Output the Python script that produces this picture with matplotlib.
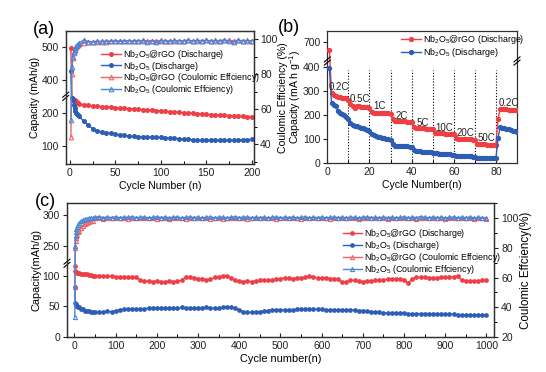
import numpy as np
import matplotlib
matplotlib.use('Agg')
import matplotlib.pyplot as plt
from matplotlib.ticker import MultipleLocator, FixedLocator

plt.rcParams['font.family'] = ['Liberation Sans', 'DejaVu Sans']
plt.rcParams['mathtext.fontset'] = 'custom'
plt.rcParams['mathtext.rm'] = 'Liberation Sans'
plt.rcParams['mathtext.it'] = 'Liberation Sans:italic'
plt.rcParams['mathtext.default'] = 'regular'

# ---------------- data: panel (a) ----------------
cycles_a = [1, 2, 3, 4, 5, 6, 7, 8, 9, 10] + list(range(15, 201, 5))
rgo_dis_a = [495, 245, 243, 240, 238, 236, 234, 232, 230, 228,
             225, 223, 221, 220, 219, 218, 217, 216, 215, 214, 213, 212, 211, 210,
             209, 208, 207, 206, 205, 204, 203, 202, 201, 200, 199, 198, 197, 196,
             195, 194, 193, 193, 192, 191, 190, 190, 189, 189]
nb_dis_a = [425, 245, 238, 225, 215, 207, 200, 196, 193, 190,
            175, 163, 153, 147, 143, 140, 138, 136, 134, 132, 130, 129, 128, 128,
            127, 127, 126, 126, 125, 124, 123, 122, 121, 120, 119, 119, 118, 118,
            118, 117, 117, 117, 118, 118, 118, 119, 119, 120]
rgo_ce_a = [44, 80, 89, 92, 94, 95, 95.5, 96, 96.5, 97,
            97.8, 98.2, 98.5, 98.4, 98.7, 98.6, 98.9, 98.7, 99.0, 98.8, 99.1, 98.9,
            99.0, 99.2, 98.9, 99.1, 99.0, 99.2, 99.1, 98.9, 99.2, 99.0, 99.1, 99.3,
            99.0, 99.2, 99.1, 99.3, 99.0, 99.2, 99.1, 99.3, 99.2, 99.0, 99.3, 99.1,
            99.2, 99.0]
nb_ce_a = [53.7, 84, 90, 92.5, 94, 95, 96, 96.5, 97, 97.5,
           99.5, 98.6, 98.4, 98.8, 98.6, 98.9, 98.7, 99.0, 98.8, 98.9, 99.1, 98.8,
           99.0, 99.1, 98.6, 99.0, 98.2, 99.1, 99.0, 98.8, 99.1, 99.0, 98.9, 99.2,
           99.0, 99.1, 98.9, 99.2, 99.0, 99.1, 99.0, 99.2, 99.1, 98.3, 99.2, 99.0,
           99.1, 98.9]

# ---------------- data: panel (b) ----------------
cycles_b = list(range(1, 91))
rgo_rate = [670, 290, 283, 280, 276, 273, 272, 270, 268, 262,
            245, 235, 230, 236, 235, 234, 233, 232, 231, 230,
            212, 210, 209, 208, 208, 207, 207, 206, 206, 205,
            182, 176, 175, 174, 174, 173, 173, 172, 172, 171,
            150, 146, 145, 145, 144, 144, 143, 143, 142, 142,
            127, 125, 125, 124, 124, 123, 123, 123, 122, 122,
            103, 101, 100, 100, 100, 99, 99, 99, 98, 98,
            81, 79, 78, 78, 78, 77, 77, 77, 77, 77,
            185, 225, 224, 223, 223, 222, 222, 221, 221, 220]
nb_rate = [395, 250, 243, 238, 215, 208, 203, 198, 192, 185,
           165, 160, 156, 153, 150, 148, 145, 142, 139, 135,
           120, 115, 112, 110, 108, 106, 104, 102, 100, 97,
           78, 72, 70, 70, 70, 70, 70, 70, 69, 68,
           55, 52, 50, 49, 48, 47, 46, 45, 45, 44,
           42, 41, 40, 39, 38, 38, 37, 37, 36, 35,
           32, 31, 31, 30, 30, 30, 29, 29, 28, 28,
           22, 21, 21, 21, 20, 20, 20, 20, 20, 20,
           105, 150, 147, 145, 143, 140, 138, 135, 133, 130]
rate_labels = ['0.2C', '0.5C', '1C', '2C', '5C', '10C', '20C', '50C', '0.2C']
rate_label_x = [5.5, 15.3, 25, 35.1, 45.1, 55.5, 65.5, 75.5, 86]
rate_label_y = [314, 264, 237, 196, 168, 148, 127, 103, 250]
rate_bounds = [10, 20, 30, 40, 50, 60, 70, 80]

# ---------------- data: panel (c) ----------------
cycles_c = [1, 2, 3, 4, 5, 6, 8, 10, 15, 20, 25, 30, 35, 40, 45] + list(range(50, 1001, 10))
rgo_dis_c = [115, 108, 106, 105, 105, 104, 104, 104, 103, 103, 102, 102, 101, 101, 100,
             100, 100, 99, 99, 99, 98, 98, 98, 97, 97, 98,
             92, 91, 91, 90, 91, 90, 90, 91, 90, 91, 92,
             98, 97, 96, 95, 95, 93, 94, 97, 98, 99, 100, 96,
             92, 91, 90, 91, 90, 91, 92, 93, 92, 93, 94, 95,
             96, 96, 95, 96, 96, 97, 99, 97, 96, 96, 96, 95, 95, 94,
             89, 90, 92, 92, 91, 90, 91, 91, 92, 92, 93, 94,
             94, 94, 95, 92, 88, 94, 97, 97, 97, 96, 96, 96, 97, 97,
             97, 98, 99, 92, 91, 91, 91, 91, 92, 93]
nb_dis_c = [82, 55, 53, 52, 51, 50, 49, 48, 46, 45, 43, 42, 42, 41, 41,
            41, 40, 41, 42, 41, 43, 44, 45, 45, 46, 46,
            46, 46, 47, 47, 47, 47, 47, 47, 47, 47, 48,
            47, 47, 47, 47, 47, 48, 47, 47, 47, 48, 49, 48,
            47, 44, 41, 40, 40, 40, 41, 42, 43, 44, 44, 44,
            44, 44, 44, 45, 45, 45, 45, 45, 45, 45, 44, 44, 44, 44,
            44, 44, 44, 44, 43, 43, 42, 41, 41, 40, 39, 39,
            39, 39, 39, 39, 38, 38, 38, 38, 38, 38, 38, 38, 37, 37,
            37, 37, 36, 36, 36, 36, 36, 36, 36, 36]
rgo_ce_c = [54, 80, 85, 87, 88, 89, 90.5, 91.5, 93.5, 95, 96, 97, 97.5, 98, 98.5,
            100.2, 100.5, 99.8, 100.3, 100.1, 99.9, 100.4, 100.0, 99.7, 100.3,
            100.1, 100.4, 99.9, 100.2, 100.0, 99.6, 100.3, 100.1, 99.8, 100.2,
            100.4, 100.0, 99.7, 100.2, 100.1, 99.9, 100.3, 100.0, 99.5, 100.2,
            100.1, 99.8, 100.4, 100.0, 99.9, 100.3, 100.1, 99.7, 100.2, 100.0,
            100.3, 99.9, 100.1, 100.4, 99.8, 100.0, 100.2, 99.9, 100.3, 100.1,
            99.6, 100.2, 100.0, 100.4, 99.9, 100.1, 100.3, 99.8, 100.0, 100.2,
            100.1, 99.9, 100.3, 100.0, 99.7, 100.2, 100.1, 100.4, 99.9, 100.0,
            100.2, 99.8, 100.1, 100.3, 100.0, 99.9, 100.2, 100.1, 99.8, 100.3,
            100.0, 100.2, 99.9, 100.1, 100.4, 99.8, 100.0, 100.2, 100.1, 99.9,
            100.3, 100.0, 99.8, 100.2, 100.1, 99.7]
nb_ce_c = [33.5, 81, 88, 91, 93, 94, 95.5, 96.5, 98, 98.8, 99.3, 99.6, 100, 100.3, 100.5,
           100.6, 101.2, 100.4, 100.9, 100.5, 101.0, 100.3, 100.8, 100.6, 101.1,
           100.4, 100.7, 100.9, 100.3, 100.6, 101.0, 100.5, 100.8, 100.4, 100.7,
           100.9, 100.3, 100.6, 101.0, 100.5, 100.8, 100.2, 100.7, 100.9, 100.4,
           100.6, 100.8, 100.3, 100.7, 101.0, 100.5, 100.6, 100.9, 100.4, 100.7,
           100.5, 100.8, 100.3, 100.6, 100.9, 100.4, 100.7, 100.5, 100.8, 100.3,
           100.6, 100.9, 100.4, 100.7, 100.5, 100.8, 100.3, 100.6, 100.9, 100.5,
           100.7, 100.4, 100.8, 100.6, 100.3, 100.7, 100.9, 100.5, 100.6, 100.4,
           100.8, 100.5, 100.7, 100.3, 100.6, 100.9, 100.4, 100.7, 100.5, 101.2,
           100.6, 100.4, 100.8, 100.5, 100.7, 100.3, 100.6, 100.9, 100.4, 100.7,
           100.5, 100.8, 100.4, 100.6, 100.5, 100.3]

lab_rgo_d = r'Nb$_2$O$_5$@rGO (Discharge)'
lab_nb_d = r'Nb$_2$O$_5$ (Discharge)'
lab_rgo_ce = r'Nb$_2$O$_5$@rGO (Coulomic Effciency)'
lab_nb_ce = r'Nb$_2$O$_5$ (Coulomic Effciency)'

# ---------------- styles ----------------
RED = '#ee3f45'
BLUE = '#2d5db5'
RED_CE = '#f06464'
BLUE_CE = '#4a86d6'
SPINE = '#303030'
TICK_FS = 7.5
LAB_FS = 7.6
LEG_FS = 6.4


def broken_scale(lo, hi):
    gap = hi - lo

    def fwd(v):
        v = np.asarray(v, dtype=float)
        return np.where(v <= lo, v, np.where(v >= hi, v - gap, lo))

    def inv(t):
        t = np.asarray(t, dtype=float)
        return np.where(t <= lo, t, t + gap)
    return fwd, inv


def add_break(ax, lo, fwd, ylim, sides=('left',)):
    t = fwd(np.array([lo, ylim[0], ylim[1]]))
    yf = (t[0] - t[1]) / (t[2] - t[1])
    w, h = ax.bbox.width, ax.bbox.height
    dx = 3.0 / w
    dy = 2.5 / h
    sep = 1.6 / h
    for side in sides:
        x0 = 0 if side == 'left' else 1
        for off in (-sep, sep):
            ax.plot([x0 - dx, x0 + dx], [yf + off - dy, yf + off + dy],
                    transform=ax.transAxes, color='k', lw=0.8,
                    clip_on=False, zorder=20)


def style_axes(ax, ypad=2):
    for s in ax.spines.values():
        s.set_color(SPINE)
        s.set_linewidth(0.9)
    ax.tick_params(axis='x', direction='in', length=3, width=0.8,
                   labelsize=TICK_FS, pad=3, colors='#222222', which='major')
    ax.tick_params(axis='x', direction='in', length=2, width=0.7, which='minor')
    ax.tick_params(axis='y', direction='out', length=3, width=0.8,
                   labelsize=TICK_FS, pad=ypad, colors='#222222', which='major')
    ax.tick_params(axis='y', direction='out', length=2, width=0.7, which='minor')


fig = plt.figure(figsize=(5.46, 3.72), dpi=100)
W, H = 546.0, 372.0


def px_axes(l, r, t, b):
    return fig.add_axes([l / W, (H - b) / H, (r - l) / W, (b - t) / H])


def legend_kw(spacing):
    return dict(frameon=False, fontsize=LEG_FS, handlelength=2.2,
                handletextpad=0.25, labelspacing=spacing, borderpad=0,
                borderaxespad=0)


# ================= panel (a) =================
axa = px_axes(65.7, 254, 31, 164)
fa, ia = broken_scale(250, 350)
ylim_a = (46, 547)
axa.set_yscale('function', functions=(fa, ia))
axa.set_ylim(*ylim_a)
axa.set_xlim(-4.7, 202.5)
axa.plot(cycles_a, rgo_dis_a, color=RED, marker='o', ms=2.6, lw=1.0, label=lab_rgo_d)
axa.plot(cycles_a, nb_dis_a, color=BLUE, marker='o', ms=2.6, lw=1.0, label=lab_nb_d)
axa.yaxis.set_major_locator(FixedLocator([100, 200, 400, 500]))
axa.yaxis.set_minor_locator(FixedLocator([]))
axa.xaxis.set_major_locator(MultipleLocator(50))
axa.xaxis.set_minor_locator(MultipleLocator(25))
style_axes(axa)
axa.set_xlabel('Cycle Number (n)', fontsize=LAB_FS, labelpad=2)
axa.set_ylabel('Capacity (mAh/g)', fontsize=LAB_FS, labelpad=1)

axa2 = axa.twinx()
axa2.plot(cycles_a, rgo_ce_a, color=RED_CE, marker='^', ms=3.3, mfc='none', mew=0.8, lw=1.0, label=lab_rgo_ce)
axa2.plot(cycles_a, nb_ce_a, color=BLUE_CE, marker='^', ms=3.3, mfc='none', mew=0.8, lw=1.0, label=lab_nb_ce)
axa2.set_ylim(28.6, 104.6)
axa2.yaxis.set_major_locator(MultipleLocator(20))
axa2.yaxis.set_minor_locator(MultipleLocator(10))
style_axes(axa2, ypad=1.5)
axa2.set_ylabel('Coulomic Efficiency (%)', fontsize=LAB_FS, labelpad=0.5)
add_break(axa, 250, fa, ylim_a)
h1, l1 = axa.get_legend_handles_labels()
h2, l2 = axa2.get_legend_handles_labels()
axa2.legend(h1 + h2, l1 + l2, loc='upper left', bbox_to_anchor=(0.19, 0.875),
            **legend_kw(-0.12))
fig.text(33 / W, 1 - 30 / H, '(a)', fontsize=13, va='center', ha='left')

# ================= panel (b) =================
axb = px_axes(327.3, 517, 31, 163.3)
fb, ib = broken_scale(423, 623)
ylim_b = (0, 747)
axb.set_yscale('function', functions=(fb, ib))
axb.set_ylim(*ylim_b)
axb.set_xlim(0, 90)
axb.vlines(rate_bounds, 0, 385, colors='k', linestyles=(0, (1, 1.6)), lw=0.8, zorder=1)
axb.plot(cycles_b, rgo_rate, color=RED, marker='o', ms=2.8, lw=1.0, label=lab_rgo_d, zorder=3)
axb.plot(cycles_b, nb_rate, color=BLUE, marker='o', ms=2.8, lw=1.0, label=lab_nb_d, zorder=3)
for txt, x, y in zip(rate_labels, rate_label_x, rate_label_y):
    axb.text(x, y, txt, fontsize=7, ha='center', va='center', color='#222222')
axb.yaxis.set_major_locator(FixedLocator([0, 100, 200, 300, 400, 700]))
axb.yaxis.set_minor_locator(FixedLocator([]))
axb.xaxis.set_major_locator(MultipleLocator(20))
axb.xaxis.set_minor_locator(MultipleLocator(10))
style_axes(axb)
axb.set_xlabel('Cycle Number(n)', fontsize=LAB_FS, labelpad=2)
axb.set_ylabel(r'Capacity (mA h g$^{-1}$)', fontsize=LAB_FS, labelpad=0)
add_break(axb, 423, fb, ylim_b, sides=('left', 'right'))
axb.legend(loc='upper left', bbox_to_anchor=(0.39, 0.985), **legend_kw(0.05))
fig.text(278 / W, 1 - 28 / H, '(b)', fontsize=13, va='center', ha='left')

# ================= panel (c) =================
axc = px_axes(67, 494.3, 203, 337)
fc, ic = broken_scale(120, 222)
ylim_c = (0, 320)
axc.set_yscale('function', functions=(fc, ic))
axc.set_ylim(*ylim_c)
axc.set_xlim(-18, 1019)
axc.plot(cycles_c, rgo_dis_c, color=RED, marker='o', ms=2.4, lw=1.0, label=lab_rgo_d)
axc.plot(cycles_c, nb_dis_c, color=BLUE, marker='o', ms=2.4, lw=1.0, label=lab_nb_d)
axc.yaxis.set_major_locator(FixedLocator([0, 50, 100, 250, 300]))
axc.yaxis.set_minor_locator(FixedLocator([]))
axc.xaxis.set_major_locator(MultipleLocator(100))
axc.xaxis.set_minor_locator(MultipleLocator(50))
style_axes(axc)
axc.set_xlabel('Cycle number(n)', fontsize=LAB_FS + 0.3, labelpad=2)
axc.set_ylabel('Capacity(mAh/g)', fontsize=LAB_FS + 0.3, labelpad=1)

axc2 = axc.twinx()
axc2.plot(cycles_c, rgo_ce_c, color=RED_CE, marker='^', ms=3.0, mfc='none', mew=0.8, lw=1.0, label=lab_rgo_ce)
axc2.plot(cycles_c, nb_ce_c, color=BLUE_CE, marker='^', ms=3.0, mfc='none', mew=0.8, lw=1.0, label=lab_nb_ce)
axc2.set_ylim(20, 110.3)
axc2.yaxis.set_major_locator(MultipleLocator(20))
axc2.yaxis.set_minor_locator(MultipleLocator(10))
style_axes(axc2)
axc2.set_ylabel('Coulomic Effciency(%)', fontsize=LAB_FS + 0.8, labelpad=1)
add_break(axc, 120, fc, ylim_c)
h1, l1 = axc.get_legend_handles_labels()
h2, l2 = axc2.get_legend_handles_labels()
axc2.legend(h1 + h2, l1 + l2, loc='upper left', bbox_to_anchor=(0.645, 0.82),
            **legend_kw(-0.12))
fig.text(35 / W, 1 - 202 / H, '(c)', fontsize=13, va='center', ha='left')

fig.savefig('out.png', dpi=100)
